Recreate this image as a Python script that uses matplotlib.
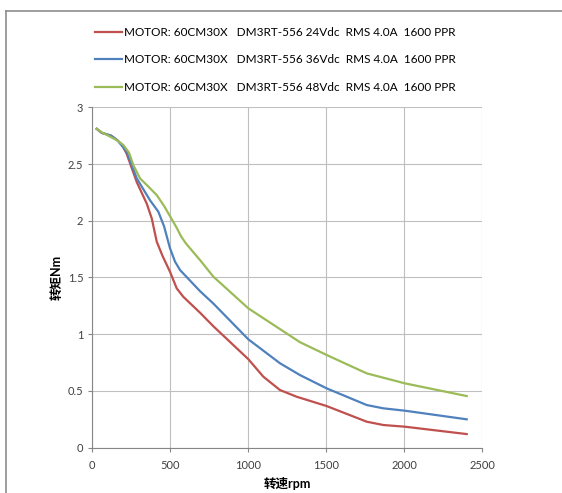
import matplotlib
matplotlib.use("Agg")
import matplotlib.pyplot as plt
from matplotlib.lines import Line2D

plt.rcParams['font.family'] = ['Lato', 'Noto Sans CJK SC', 'DejaVu Sans']

# Torque curves (speed rpm, torque Nm)
speed_24 = [28, 60, 120, 160, 190, 220, 285, 349, 381, 413, 450, 498, 541, 583, 690, 776,
            1000, 1096, 1203, 1310, 1502, 1759, 1865, 2004, 2400]
torque_24 = [2.81, 2.775, 2.75, 2.71, 2.67, 2.59, 2.34, 2.15, 2.02, 1.815, 1.69, 1.55, 1.404, 1.33, 1.19, 1.07,
             0.78, 0.626, 0.508, 0.449, 0.367, 0.229, 0.20, 0.185, 0.12]

speed_36 = [28, 60, 120, 160, 220, 285, 370, 423, 460, 498, 530, 562, 690, 776,
            1000, 1203, 1331, 1502, 1759, 1865, 2004, 2400]
torque_36 = [2.81, 2.775, 2.75, 2.71, 2.61, 2.373, 2.18, 2.08, 1.95, 1.757, 1.64, 1.566, 1.38, 1.27,
             0.955, 0.744, 0.64, 0.523, 0.376, 0.347, 0.326, 0.25]

speed_48 = [28, 60, 156, 199, 235, 263, 306, 360, 413, 460, 498, 540, 570, 600, 690, 776,
            1000, 1203, 1331, 1502, 1759, 2004, 2400]
torque_48 = [2.81, 2.78, 2.711, 2.667, 2.60, 2.49, 2.373, 2.30, 2.226, 2.13, 2.04, 1.94, 1.86, 1.80, 1.654, 1.507,
             1.228, 1.045, 0.93, 0.817, 0.655, 0.567, 0.455]

labels = ["MOTOR: 60CM30X   DM3RT-556 24Vdc  RMS 4.0A  1600 PPR",
          "MOTOR: 60CM30X   DM3RT-556 36Vdc  RMS 4.0A  1600 PPR",
          "MOTOR: 60CM30X   DM3RT-556 48Vdc  RMS 4.0A  1600 PPR"]
colors = ["#C0504D", "#4F81BD", "#9BBB59"]

fig = plt.figure(figsize=(5.62, 4.93), dpi=100)
ax = fig.add_axes([0.1643, 0.0919, 0.6939, 0.6905])

ax.plot(speed_24, torque_24, color=colors[0], lw=1.6, label=labels[0], solid_joinstyle="round")
ax.plot(speed_36, torque_36, color=colors[1], lw=1.6, label=labels[1], solid_joinstyle="round")
ax.plot(speed_48, torque_48, color=colors[2], lw=1.6, label=labels[2], solid_joinstyle="round")

ax.set_xlim(0, 2500)
ax.set_ylim(0, 3)
ax.set_xticks([0, 500, 1000, 1500, 2000, 2500])
ax.set_yticks([0, 0.5, 1, 1.5, 2, 2.5, 3])
ax.set_yticklabels(["0", "0.5", "1", "1.5", "2", "2.5", "3"])
ax.grid(True, color="#BFBFBF", lw=0.8)
ax.set_axisbelow(True)
for s in ["top", "right"]:
    ax.spines[s].set_visible(False)
for s in ["left", "bottom"]:
    ax.spines[s].set_color("#868686")
    ax.spines[s].set_linewidth(0.8)
ax.tick_params(colors="#868686", labelcolor="#404040", labelsize=8, length=3, width=0.8)
ax.tick_params(axis="x", pad=6)

ax.set_ylabel("转矩Nm", fontsize=9, fontweight="bold", labelpad=4)
ax.set_xlabel("转速rpm", fontsize=9, fontweight="bold", labelpad=4)

fig.legend(loc="upper left", bbox_to_anchor=(0.1495, 0.967), frameon=False,
           fontsize=8.5, handlelength=2.3, handletextpad=0.2, labelspacing=1.4)

# partial frame around the picture
fig.add_artist(Line2D([0.0113, 0.0113], [0, 0.978], color="#8C8C8C", lw=1.2))
fig.add_artist(Line2D([0.0113, 1], [0.978, 0.978], color="#8C8C8C", lw=1.2))

fig.savefig("out.png", dpi=100)
